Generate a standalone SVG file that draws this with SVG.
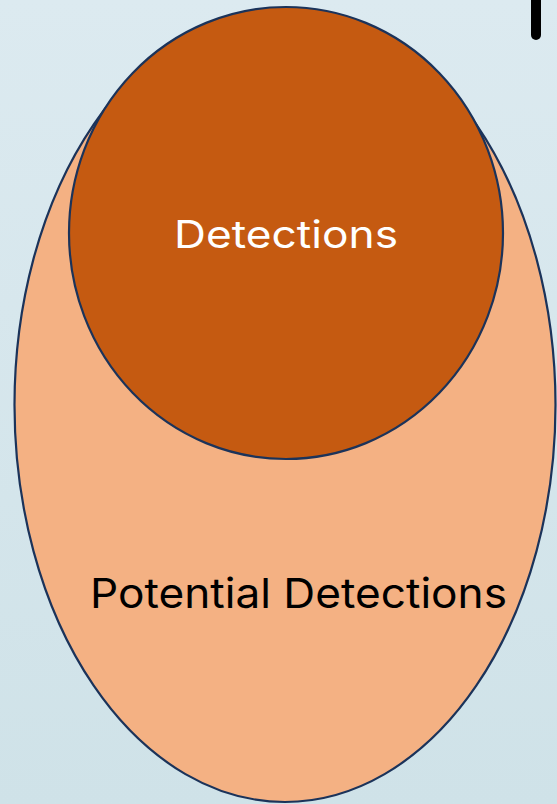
<svg xmlns="http://www.w3.org/2000/svg" width="557" height="804" viewBox="0 0 557 804">
  <defs>
    <linearGradient id="bg" x1="0" y1="0" x2="0" y2="1">
      <stop offset="0" stop-color="#dceaf0"/>
      <stop offset="1" stop-color="#cfe2e8"/>
    </linearGradient>
  </defs>
  <style>
    .shape { stroke: #1b335a; stroke-width: 2.2; }
    .lbl { font-family: Inter, "Open Sans", "Liberation Sans", sans-serif; }
  </style>
  <rect x="0" y="0" width="557" height="804" fill="url(#bg)"/>
  <rect x="531" y="-10" width="10" height="50" rx="5" fill="#000"/>
  <g id="potential-detections">
    <ellipse class="shape" cx="285" cy="405" rx="270.5" ry="397" fill="#f4b183"/>
    <text class="lbl" x="90" y="608" font-size="41" fill="#000" textLength="417" lengthAdjust="spacingAndGlyphs">Potential Detections</text>
  </g>
  <g id="detections">
    <ellipse class="shape" cx="286" cy="233" rx="217" ry="226" fill="#c55a11"/>
    <text class="lbl" x="174" y="248" font-size="38" fill="#fff" textLength="224" lengthAdjust="spacingAndGlyphs">Detections</text>
  </g>
  <g id="connectors"/>
</svg>
